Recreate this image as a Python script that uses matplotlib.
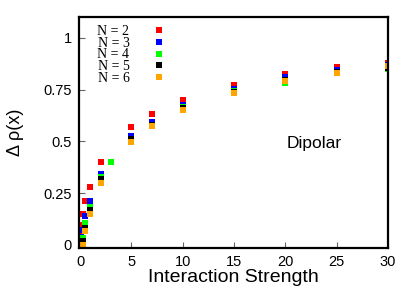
import matplotlib
matplotlib.use("Agg")
import matplotlib.pyplot as plt

# Data (x: interaction strength, y: delta rho)
x_n2 = [0.0, 0.05, 0.1, 0.25, 0.5, 1, 2, 5, 7, 10, 15, 20, 25, 30]
y_n2 = [0.01, 0.043, 0.096, 0.147, 0.21, 0.278, 0.40, 0.569, 0.631, 0.70, 0.774, 0.824, 0.859, 0.88]

x_n3 = [0.0, 0.1, 0.25, 0.5, 1, 2, 5, 7, 10, 15, 20, 25, 30]
y_n3 = [0.005, 0.04, 0.072, 0.14, 0.21, 0.342, 0.525, 0.594, 0.673, 0.753, 0.81, 0.845, 0.87]

x_n4 = [0.0, 0.25, 0.5, 1, 2, 3, 5, 7, 10, 15, 20, 25, 30]
y_n4 = [0.0, 0.034, 0.106, 0.185, 0.33, 0.40, 0.51, 0.58, 0.665, 0.745, 0.78, 0.835, 0.847]

x_n5 = [0.0, 0.25, 0.5, 1, 2, 5, 7, 10, 15, 20, 25, 30]
y_n5 = [0.0, 0.019, 0.082, 0.169, 0.318, 0.51, 0.578, 0.66, 0.74, 0.795, 0.835, 0.855]

x_n6 = [0.0, 0.25, 0.5, 1, 2, 5, 7, 10, 15, 20, 25, 30]
y_n6 = [-0.005, 0.0, 0.067, 0.147, 0.30, 0.496, 0.573, 0.65, 0.735, 0.79, 0.83, 0.862]

labels = ["N = 2", "N = 3", "N = 4", "N = 5", "N = 6"]
colors = ["#ff0000", "#0000ff", "#00ff00", "#000000", "#ffa500"]
series = [(x_n2, y_n2), (x_n3, y_n3), (x_n4, y_n4), (x_n5, y_n5), (x_n6, y_n6)]

xticks = [0, 5, 10, 15, 20, 25, 30]
yticks = [0, 0.25, 0.5, 0.75, 1]
yticklabels = ["0", "0.25", "0.5", "0.75", "1"]

plt.rcParams['font.family'] = ['Liberation Sans', 'DejaVu Sans']

fig = plt.figure(figsize=(4.15, 2.91), dpi=100)
ax = fig.add_axes([79/415, 1-248/291, (388-79)/415, (248-17)/291])

for (xs, ys), c, lab in zip(series, colors, labels):
    ax.plot(xs, ys, linestyle='none', marker='s', markersize=4.2,
            color=c, markeredgewidth=0, label=lab)

ax.set_xlim(-0.1, 30)
ax.set_ylim(-0.015, 1.1)
ax.set_xticks(xticks)
ax.set_xticklabels([str(t) for t in xticks])
ax.set_yticks(yticks)
ax.set_yticklabels(yticklabels)
ax.tick_params(direction='in', length=4, width=0.8, labelsize=10.5,
               top=False, right=False, pad=5, color='#666666')
for s in ax.spines.values():
    s.set_linewidth(1.6)

ax.set_xlabel("Interaction Strength", fontsize=14, labelpad=0)
ax.set_ylabel("Δ ρ(x)", fontsize=13, labelpad=14)

ax.text(22.8, 0.49, "Dipolar", fontsize=12.5, ha='center', va='center')

leg = ax.legend(loc='upper left', bbox_to_anchor=(0.046, 0.985), frameon=False,
                markerfirst=False, handlelength=1.0, handletextpad=1.62,
                labelspacing=-0.08, borderpad=0.2, borderaxespad=0.1,
                prop={'family': ['Liberation Serif'], 'size': 10})

fig.savefig("out.png", dpi=100)
